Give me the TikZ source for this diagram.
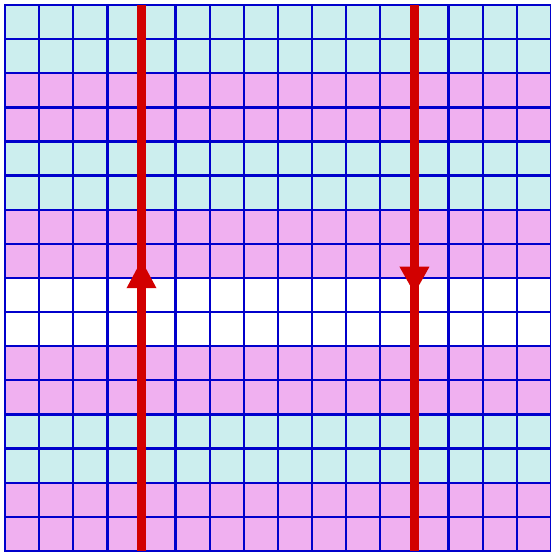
\documentclass[tikz,border=0pt]{standalone}
\definecolor{cellcyan}{RGB}{204,238,238}
\definecolor{cellpink}{RGB}{240,176,240}
\definecolor{gridblue}{RGB}{0,0,204}
\definecolor{flowred}{RGB}{210,0,0}
\begin{document}
\begin{tikzpicture}
            \def\N{16}       % cells per side
            \def\xl{4}       % left flow line
            \def\xr{12}      % right flow line
            \def\hw{0.44}    % arrowhead half width
            \useasboundingbox (-0.147,-0.06) rectangle (16.0,16.147);
            % row bands, two rows each, from the bottom
            \foreach \r/\c in {0/cellpink, 2/cellcyan, 4/cellpink, 6/white, 8/cellpink, 10/cellcyan, 12/cellpink, 14/cellcyan} {
                \fill[\c] (0,\r) rectangle (\N,\r+2);
            };
            \draw[gridblue, line width=1.9pt] (0,0) grid (\N,\N);
            \draw[gridblue, line width=1.9pt] (0,0) rectangle (\N,\N);
            % flow lines
            \coordinate (lb) at (\xl,0);
            \coordinate (lt) at (\xl,\N);
            \coordinate (rt) at (\xr,\N);
            \coordinate (rb) at (\xr,0);
            \draw[flowred, line width=7.5pt] (lb) -- (lt);
            \draw[flowred, line width=7.5pt] (rt) -- (rb);
            % arrowheads
            \fill[flowred] (\xl,8.52) -- (\xl-\hw,7.7) -- (\xl+\hw,7.7) -- cycle;
            \fill[flowred] (\xr,7.55) -- (\xr-\hw,8.33) -- (\xr+\hw,8.33) -- cycle;
        \end{tikzpicture}
\end{document}
